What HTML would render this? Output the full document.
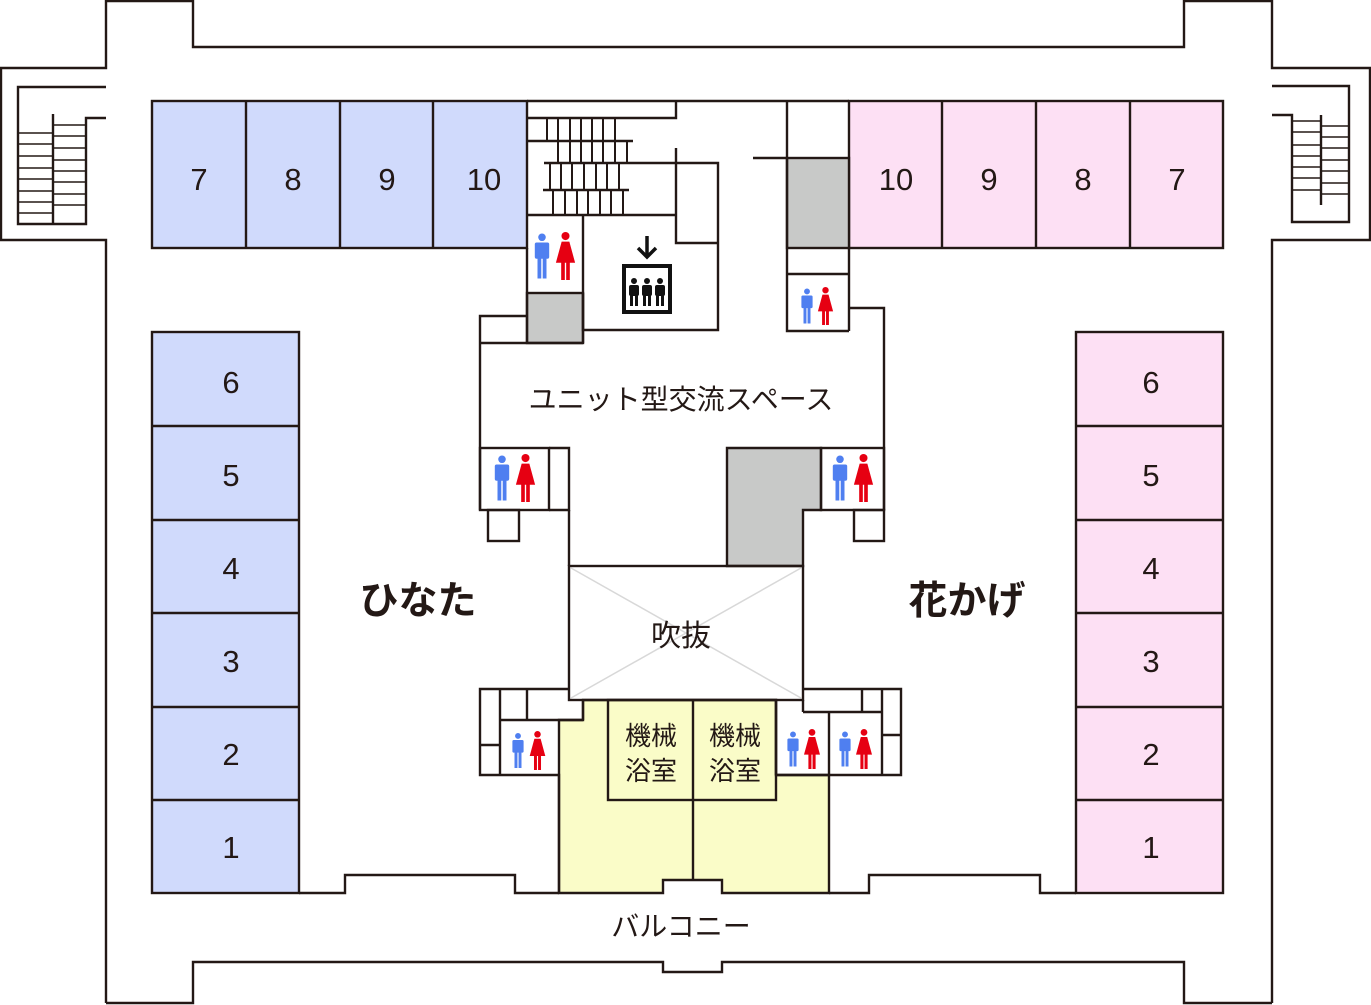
<!DOCTYPE html>
<html><head><meta charset="utf-8"><style>
html,body{margin:0;padding:0;background:#fff;}
svg{display:block;}
text{font-family:"Liberation Sans","Noto Sans CJK JP",sans-serif;fill:#231815;}
</style></head><body>
<svg width="1371" height="1005" viewBox="0 0 1371 1005" xmlns="http://www.w3.org/2000/svg">
<defs>
<symbol id="man" viewBox="0 0 20 50"><circle cx="10" cy="4.2" r="4.2" fill="#4f7ff0"/><rect x="2" y="10" width="16" height="18" rx="2" fill="#4f7ff0"/><rect x="5" y="26" width="4.2" height="24" fill="#4f7ff0"/><rect x="10.8" y="26" width="4.2" height="24" fill="#4f7ff0"/></symbol>
<symbol id="woman" viewBox="0 0 20 50"><circle cx="10" cy="4.2" r="4.2" fill="#e60012"/><path d="M6,10 L14,10 L20,32 L0,32Z" fill="#e60012"/><rect x="5.5" y="30" width="3.8" height="20" fill="#e60012"/><rect x="10.7" y="30" width="3.8" height="20" fill="#e60012"/></symbol>
</defs>
<g fill="none" stroke="#231815" stroke-width="2.4">
<polyline points="106,0 106,68 1,68 1,240 106,240 106,1003"/>
<polyline points="106,1 193,1 193,47 1184,47 1184,1 1272,1"/>
<polyline points="1272,0 1272,68 1370,68 1370,240 1272,240 1272,1003"/>
<polyline points="106,1003 193,1003 193,962 663,962 663,972 722,972 722,962 1184,962 1184,1003 1272,1003"/>
<polyline points="106,87 18,87 18,224 86,224 86,118 106,118"/>
<line x1="53" y1="114" x2="53" y2="224"/>
<polyline points="1272,86 1349,86 1349,222 1292,222 1292,115 1272,115"/>
<line x1="1321" y1="115" x2="1321" y2="205"/>
</g>
<g stroke="#231815" stroke-width="1.6">
<line x1="18" y1="133" x2="53" y2="133"/><line x1="18" y1="144" x2="53" y2="144"/><line x1="18" y1="156" x2="53" y2="156"/><line x1="18" y1="168" x2="53" y2="168"/><line x1="18" y1="179" x2="53" y2="179"/><line x1="18" y1="191" x2="53" y2="191"/><line x1="18" y1="202" x2="53" y2="202"/><line x1="18" y1="213" x2="53" y2="213"/>
<line x1="53" y1="125" x2="86" y2="125"/><line x1="53" y1="136" x2="86" y2="136"/><line x1="53" y1="148" x2="86" y2="148"/><line x1="53" y1="160" x2="86" y2="160"/><line x1="53" y1="171" x2="86" y2="171"/><line x1="53" y1="182" x2="86" y2="182"/><line x1="53" y1="194" x2="86" y2="194"/><line x1="53" y1="205" x2="86" y2="205"/>
<line x1="1292" y1="121" x2="1321" y2="121"/><line x1="1292" y1="132" x2="1321" y2="132"/><line x1="1292" y1="145" x2="1321" y2="145"/><line x1="1292" y1="156" x2="1321" y2="156"/><line x1="1292" y1="167" x2="1321" y2="167"/><line x1="1292" y1="178" x2="1321" y2="178"/><line x1="1292" y1="190" x2="1321" y2="190"/>
<line x1="1321" y1="126" x2="1349" y2="126"/><line x1="1321" y1="137" x2="1349" y2="137"/><line x1="1321" y1="148" x2="1349" y2="148"/><line x1="1321" y1="160" x2="1349" y2="160"/><line x1="1321" y1="171" x2="1349" y2="171"/><line x1="1321" y1="183" x2="1349" y2="183"/><line x1="1321" y1="194" x2="1349" y2="194"/>
</g>
<g stroke="#231815" stroke-width="2.4">
<rect x="152" y="101" width="375" height="147" fill="#d0dafc"/>
<rect x="152" y="332" width="147" height="561" fill="#d0dafc"/>
<rect x="849" y="101" width="374" height="147" fill="#fde0f4"/>
<rect x="1076" y="332" width="147" height="561" fill="#fde0f4"/>
<rect x="527" y="293" width="56" height="50" fill="#c8c9c8"/>
<rect x="787" y="158" width="62" height="90" fill="#c8c9c8"/>
<polygon points="727,448 821,448 821,510 803,510 803,566 727,566" fill="#c8c9c8"/>
<polygon points="559,720 583,720 583,700 776,700 776,775 829,775 829,893 722,893 722,880 663,880 663,893 559,893" fill="#fafcc8"/>
</g>
<g fill="none" stroke="#231815" stroke-width="2.4">
<line x1="246" y1="101" x2="246" y2="248"/><line x1="340" y1="101" x2="340" y2="248"/><line x1="433" y1="101" x2="433" y2="248"/>
<line x1="942" y1="101" x2="942" y2="248"/><line x1="1036" y1="101" x2="1036" y2="248"/><line x1="1130" y1="101" x2="1130" y2="248"/>
<line x1="152" y1="426" x2="299" y2="426"/><line x1="152" y1="520" x2="299" y2="520"/><line x1="152" y1="613" x2="299" y2="613"/><line x1="152" y1="707" x2="299" y2="707"/><line x1="152" y1="800" x2="299" y2="800"/>
<line x1="1076" y1="426" x2="1223" y2="426"/><line x1="1076" y1="520" x2="1223" y2="520"/><line x1="1076" y1="613" x2="1223" y2="613"/><line x1="1076" y1="707" x2="1223" y2="707"/><line x1="1076" y1="800" x2="1223" y2="800"/>
<line x1="527" y1="101" x2="849" y2="101"/>
<polyline points="299,893 345,893 345,875 515,875 515,893 559,893"/>
<polyline points="829,893 869,893 869,875 1040,875 1040,893 1076,893"/>
<polyline points="527,118 676,118 676,101"/>
<line x1="527" y1="141" x2="633" y2="141"/>
<line x1="544" y1="163" x2="676" y2="163"/>
<line x1="543" y1="190" x2="629" y2="190"/>
<line x1="527" y1="215" x2="676" y2="215"/>
<polyline points="676,148 676,243 718,243"/>
<polyline points="676,163 718,163 718,330 583,330 583,215"/>
<line x1="527" y1="248" x2="527" y2="343"/>
<line x1="583" y1="293" x2="583" y2="343"/>
<polyline points="527,316 480,316 480,510"/>
<line x1="480" y1="343" x2="583" y2="343"/>
<line x1="753" y1="158" x2="787" y2="158"/>
<polyline points="787,101 787,331 849,331"/>
<line x1="787" y1="274" x2="849" y2="274"/>
<line x1="849" y1="248" x2="849" y2="331"/>
<polyline points="849,308 884,308 884,510"/>
<rect x="480" y="448" width="69" height="62"/>
<polyline points="549,448 569,448 569,510 549,510"/>
<rect x="488" y="510" width="31" height="31"/>
<line x1="569" y1="510" x2="569" y2="566"/>
<rect x="821" y="448" width="63" height="62"/>
<rect x="854" y="510" width="30" height="31"/>
<rect x="569" y="566" width="234" height="134"/>
<polyline points="569,689 480,689 480,775 559,775 559,893"/>
<line x1="500" y1="689" x2="500" y2="775"/>
<line x1="480" y1="745" x2="500" y2="745"/>
<line x1="527" y1="689" x2="527" y2="720"/>
<line x1="500" y1="720" x2="583" y2="720"/>
<line x1="583" y1="700" x2="583" y2="720"/>
<rect x="608" y="700" width="168" height="100"/>
<line x1="693" y1="700" x2="693" y2="880"/>
<polyline points="803,689 901,689 901,775 776,775"/>
<line x1="803" y1="700" x2="803" y2="712"/>
<line x1="803" y1="712" x2="882" y2="712"/>
<line x1="862" y1="689" x2="862" y2="712"/>
<line x1="882" y1="689" x2="882" y2="775"/>
<line x1="882" y1="735" x2="901" y2="735"/>
<line x1="829" y1="712" x2="829" y2="775"/>
<line x1="776" y1="700" x2="776" y2="775"/>
</g>
<g stroke="#231815" stroke-width="2">
<path d="M547,119V141M558,119V141M570,119V141M581,119V141M592,119V141M603,119V141M615,119V141"/>
<path d="M558,141V163M570,141V163M581,141V163M592,141V163M603,141V163M615,141V163M627,141V163"/>
<path d="M550,163V190M561,163V190M572,163V190M584,163V190M596,163V190M607,163V190M619,163V190"/>
<path d="M553,190V215M565,190V215M577,190V215M588,190V215M600,190V215M611,190V215M623,190V215"/>
</g>
<g stroke="#d8d8d8" stroke-width="1.5">
<line x1="571" y1="568" x2="801" y2="698"/><line x1="801" y1="568" x2="571" y2="698"/>
</g>
<g>
<path d="M647,236V256M638,248L647,257L656,248" stroke="#111" stroke-width="3.5" fill="none"/>
<rect x="624" y="266" width="46" height="46" fill="none" stroke="#111" stroke-width="4"/>
<g fill="#111">
<circle cx="634" cy="281" r="3"/><rect x="629" y="285" width="10" height="11" rx="2"/><rect x="630" y="295" width="3" height="11"/><rect x="635" y="295" width="3" height="11"/>
<circle cx="647" cy="281" r="3"/><rect x="642" y="285" width="10" height="11" rx="2"/><rect x="643" y="295" width="3" height="11"/><rect x="648" y="295" width="3" height="11"/>
<circle cx="660" cy="281" r="3"/><rect x="655" y="285" width="10" height="11" rx="2"/><rect x="656" y="295" width="3" height="11"/><rect x="661" y="295" width="3" height="11"/>
</g>
</g>
<use href="#man" x="533" y="232" width="18" height="48"/><use href="#woman" x="555" y="232" width="21" height="48"/>
<use href="#man" x="800" y="287" width="14" height="38"/><use href="#woman" x="817" y="287" width="17" height="38"/>
<use href="#man" x="493" y="454" width="18" height="48"/><use href="#woman" x="515" y="454" width="21" height="48"/>
<use href="#man" x="831" y="454" width="18" height="48"/><use href="#woman" x="853" y="454" width="21" height="48"/>
<use href="#man" x="511" y="731" width="14" height="39"/><use href="#woman" x="529" y="731" width="17" height="39"/>
<use href="#man" x="786" y="729" width="14" height="40"/><use href="#woman" x="803" y="729" width="18" height="40"/>
<use href="#man" x="838" y="729" width="14" height="40"/><use href="#woman" x="855" y="729" width="18" height="40"/>
<g font-size="31" text-anchor="middle">
<text x="199" y="190">7</text><text x="293" y="190">8</text><text x="387" y="190">9</text><text x="484" y="190">10</text>
<text x="896" y="190">10</text><text x="989" y="190">9</text><text x="1083" y="190">8</text><text x="1177" y="190">7</text>
<text x="231" y="393">6</text><text x="231" y="486">5</text><text x="231" y="579">4</text><text x="231" y="672">3</text><text x="231" y="765">2</text><text x="231" y="858">1</text>
<text x="1151" y="393">6</text><text x="1151" y="486">5</text><text x="1151" y="579">4</text><text x="1151" y="672">3</text><text x="1151" y="765">2</text><text x="1151" y="858">1</text>
</g>
<text x="681" y="409" font-size="28" text-anchor="middle">ユニット型交流スペース</text>
<text x="681" y="646" font-size="30" text-anchor="middle">吹抜</text>
<text x="651" y="745" font-size="26" text-anchor="middle">機械</text><text x="651" y="780" font-size="26" text-anchor="middle">浴室</text>
<text x="735" y="745" font-size="26" text-anchor="middle">機械</text><text x="735" y="780" font-size="26" text-anchor="middle">浴室</text>
<text x="681" y="936" font-size="28" text-anchor="middle">バルコニー</text>
<text x="418" y="614" font-size="39" font-weight="bold" text-anchor="middle">ひなた</text>
<text x="967" y="614" font-size="39" font-weight="bold" text-anchor="middle">花かげ</text>
</svg>
</body></html>
